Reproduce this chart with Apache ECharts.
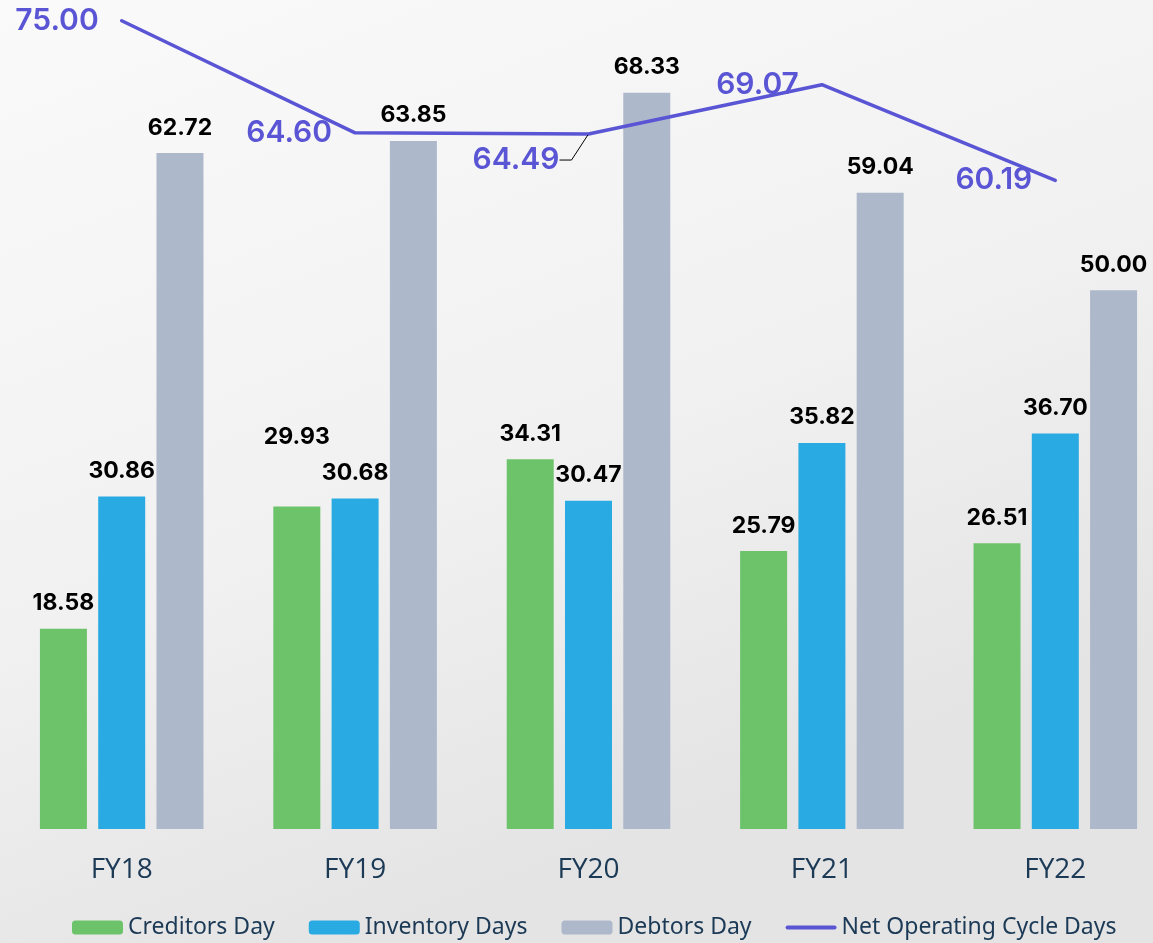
<!DOCTYPE html>
<html>
<head>
<meta charset="utf-8">
<script src="https://cdn.jsdelivr.net/npm/echarts@6/dist/echarts.min.js"></script>
<style>
  html, body { margin: 0; padding: 0; overflow: hidden; }
  /* chart is a bit wider than the window: the last group runs off the right edge */
  #main { width: 1172px; height: 943px; }
</style>
</head>
<body>
<div id="main"></div>
<script>
var categories = ['FY18', 'FY19', 'FY20', 'FY21', 'FY22'];
var creditorsDay = [18.58, 29.93, 34.31, 25.79, 26.51];
var inventoryDays = [30.86, 30.68, 30.47, 35.82, 36.70];
var debtorsDay = [62.72, 63.85, 68.33, 59.04, 50.00];
var netCycleDays = [75.00, 64.60, 64.49, 69.07, 60.19];

var chartDom = document.getElementById('main');
var myChart = echarts.init(chartDom);

var barLabel = {
    show: true,
    position: 'top',
    distance: 14,
    color: '#000000',
    fontFamily: 'Inter',
    fontWeight: 700,
    fontSize: 23,
    formatter: function (p) { return p.value.toFixed(2); }
};

var option = {
    backgroundColor: new echarts.graphic.LinearGradient(0, 0, 0.3, 1, [
        { offset: 0, color: '#fafafa' },
        { offset: 0.6, color: '#f1f1f1' },
        { offset: 1, color: '#e4e4e4' }
    ]),
    grid: {
        top: 10,
        left: 5,
        right: 0,
        bottom: 114
    },
    legend: {
        left: 67,
        bottom: -1,
        itemWidth: 51,
        itemHeight: 14,
        itemGap: 34,
        textStyle: {
            color: '#1c3a56',
            fontFamily: 'Noto Sans',
            fontSize: 23
        },
        data: [
            'Creditors Day',
            'Inventory Days',
            'Debtors Day',
            { name: 'Net Operating Cycle Days', icon: 'path://M2,0 H49 A2,2 0 0 1 49,4 H2 A2,2 0 0 1 2,0 Z' }
        ]
    },
    xAxis: {
        type: 'category',
        data: categories,
        axisLine: { show: false },
        axisTick: { show: false },
        axisLabel: {
            color: '#1c3a56',
            fontFamily: 'Open Sans',
            fontSize: 28,
            margin: 27
        }
    },
    yAxis: {
        type: 'value',
        min: 0,
        max: 76,
        show: false,
        splitLine: { show: false }
    },
    series: [
        {
            name: 'Creditors Day',
            type: 'bar',
            barWidth: 47,
            barGap: '24%',
            itemStyle: { color: '#6cc36a' },
            label: barLabel,
            data: creditorsDay.map(function (v, i) {
                if (i === 1) {
                    return { value: v, label: { offset: [0, -44] } };
                }
                return v;
            })
        },
        {
            name: 'Inventory Days',
            type: 'bar',
            barWidth: 47,
            barGap: '24%',
            itemStyle: { color: '#29aae2' },
            label: barLabel,
            data: inventoryDays
        },
        {
            name: 'Debtors Day',
            type: 'bar',
            barWidth: 47,
            barGap: '24%',
            itemStyle: { color: '#adb8ca' },
            label: barLabel,
            data: debtorsDay
        },
        {
            name: 'Net Operating Cycle Days',
            type: 'line',
            symbol: 'none',
            z: 5,
            lineStyle: { color: '#5a55d4', width: 3.5, cap: 'round' },
            itemStyle: { color: '#5a55d4' },
            label: {
                show: true,
                position: 'left',
                distance: 22,
                color: '#5a55d4',
                fontFamily: 'Inter',
                fontWeight: 600,
                fontSize: 30,
                formatter: function (p) { return p.value.toFixed(2); }
            },
            // FY20 label sits below its point with a short leader
            labelLayout: function (p) {
                return p.dataIndex === 2 ? { dx: 4, dy: 26 } : {};
            },
            data: netCycleDays.map(function (v, i) {
                var item = { value: v, symbol: 'circle', symbolSize: 2 };
                if (i === 2) {
                    item.label = { padding: [0, 10, 0, 0] };
                    item.labelLine = {
                        show: true,
                        length2: 12,
                        lineStyle: { color: '#000000', width: 1 }
                    };
                }
                return item;
            })
        }
    ]
};

option && myChart.setOption(option);
</script>
</body>
</html>
